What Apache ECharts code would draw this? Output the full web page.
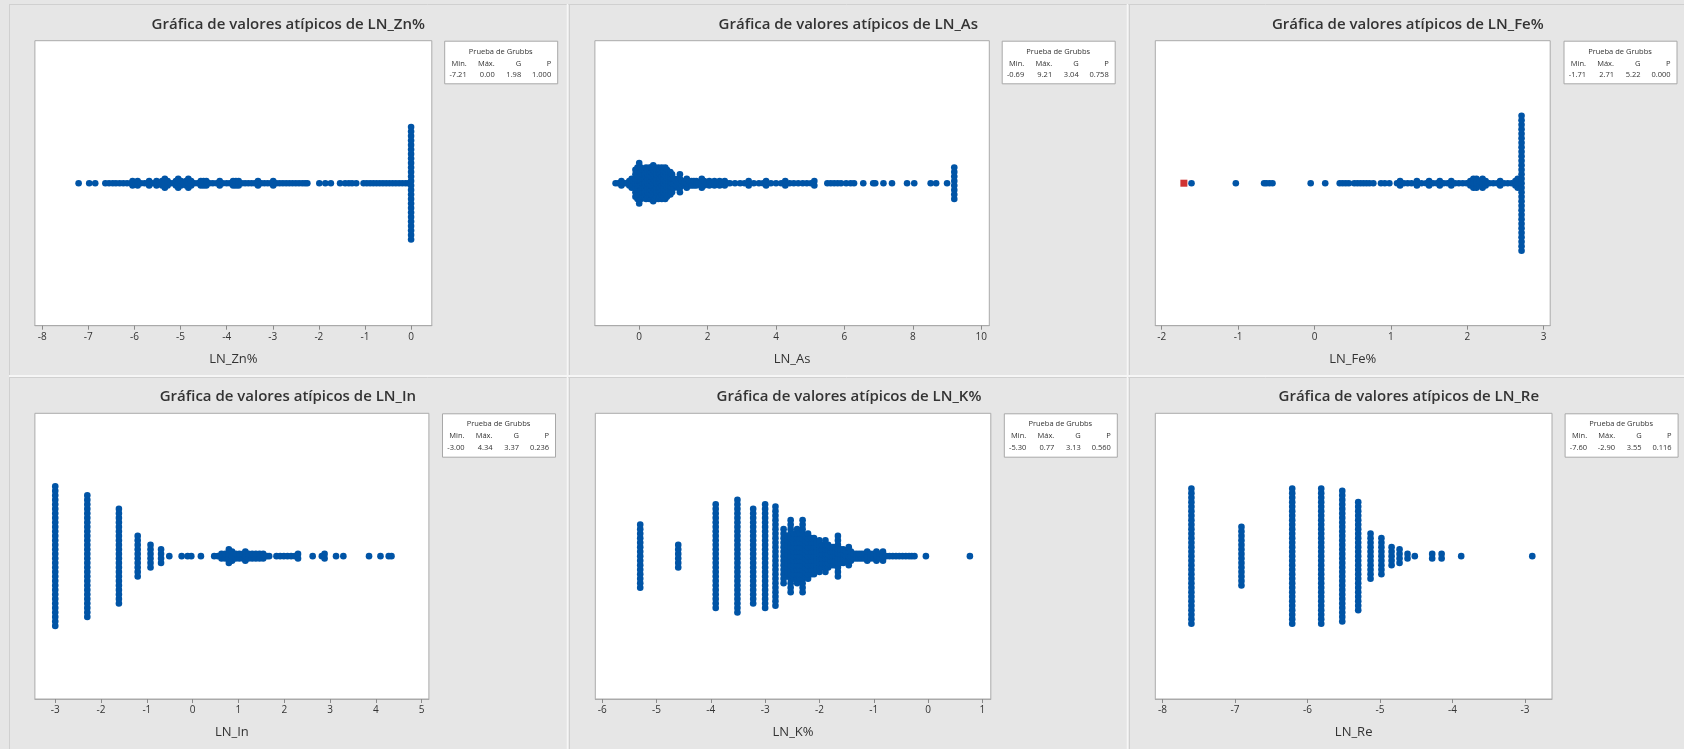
<!DOCTYPE html>
<html><head><meta charset="utf-8">
<script src="https://cdn.jsdelivr.net/npm/echarts@6/dist/echarts.min.js"></script>
<style>html,body{margin:0;padding:0;background:#ececec}#c{width:1684px;height:749px}</style>
</head><body><div id="c"></div>
<script>
// ---------- DATA ----------
const titles = ['Gráfica de valores atípicos de LN_Zn%','Gráfica de valores atípicos de LN_As','Gráfica de valores atípicos de LN_Fe%',
  'Gráfica de valores atípicos de LN_In','Gráfica de valores atípicos de LN_K%','Gráfica de valores atípicos de LN_Re'];
const axisNames = ['LN_Zn%','LN_As','LN_Fe%','LN_In','LN_K%','LN_Re'];
const ticksZn = [-8,-7,-6,-5,-4,-3,-2,-1,0];
const ticksAs = [0,2,4,6,8,10];
const ticksFe = [-2,-1,0,1,2,3];
const ticksIn = [-3,-2,-1,0,1,2,3,4,5];
const ticksK  = [-6,-5,-4,-3,-2,-1,0,1];
const ticksRe = [-8,-7,-6,-5,-4,-3];
// [value, number of stacked observations]
const dZn = [[-7.21,1],[-6.98,1],[-6.85,1],[-6.63,1],[-6.55,1],[-6.47,1],[-6.40,1],[-6.32,1],[-6.24,1],[-6.16,1],[-6.08,1],[-6.04,2],[-5.97,1],[-5.93,2],[-5.86,1],[-5.78,1],[-5.72,1],[-5.68,2],[-5.60,1],[-5.52,2],[-5.46,1],[-5.40,2],[-5.34,3],[-5.28,2],[-5.22,1],[-5.16,1],[-5.10,2],[-5.05,3],[-4.99,2],[-4.93,1],[-4.88,2],[-4.83,3],[-4.77,2],[-4.70,1],[-4.63,1],[-4.56,2],[-4.50,2],[-4.44,2],[-4.37,1],[-4.30,1],[-4.22,1],[-4.15,2],[-4.08,1],[-4.00,1],[-3.93,1],[-3.86,2],[-3.80,2],[-3.74,2],[-3.67,1],[-3.60,1],[-3.53,1],[-3.46,1],[-3.39,1],[-3.32,2],[-3.25,1],[-3.18,1],[-3.11,1],[-3.04,1],[-2.99,2],[-2.92,1],[-2.85,1],[-2.78,1],[-2.71,1],[-2.64,1],[-2.57,1],[-2.50,1],[-2.43,1],[-2.36,1],[-2.30,1],[-2.25,1],[-1.99,1],[-1.86,1],[-1.74,1],[-1.54,1],[-1.43,1],[-1.35,1],[-1.28,1],[-1.19,1],[-1.03,1],[-0.96,1],[-0.89,1],[-0.82,1],[-0.75,1],[-0.68,1],[-0.61,1],[-0.54,1],[-0.47,1],[-0.40,1],[-0.33,1],[-0.26,1],[-0.19,1],[-0.12,1],[-0.06,1],[0.00,26]];
const dAs = [[-0.69,1],[-0.61,1],[-0.52,2],[-0.44,1],[-0.37,1],[-0.29,2],[-0.22,3],[-0.16,2],[-0.11,7],[-0.05,8],[0.00,10],[0.05,8],[0.10,7],[0.15,7],[0.20,8],[0.25,7],[0.30,8],[0.35,8],[0.41,9],[0.46,8],[0.51,7],[0.56,8],[0.61,7],[0.66,8],[0.71,7],[0.76,8],[0.81,7],[0.86,6],[0.91,6],[0.96,5],[1.02,3],[1.08,2],[1.14,3],[1.19,5],[1.25,2],[1.32,2],[1.39,3],[1.46,2],[1.53,2],[1.60,2],[1.67,2],[1.74,1],[1.83,3],[1.90,2],[1.97,1],[2.05,2],[2.12,1],[2.20,2],[2.28,1],[2.35,2],[2.42,1],[2.50,2],[2.57,1],[2.65,1],[2.80,1],[2.95,1],[3.08,1],[3.20,2],[3.35,1],[3.50,1],[3.62,1],[3.71,2],[3.85,1],[4.00,1],[4.15,1],[4.27,2],[4.40,1],[4.52,1],[4.65,1],[4.78,1],[4.90,1],[5.02,1],[5.12,2],[5.50,1],[5.60,1],[5.70,1],[5.80,1],[5.90,1],[6.05,1],[6.18,1],[6.28,1],[6.55,1],[6.84,1],[6.90,1],[7.14,1],[7.39,1],[7.83,1],[8.04,1],[8.52,1],[8.68,1],[9.00,1],[9.21,8]];
const dFe = [[-1.61,1],[-1.03,1],[-0.66,1],[-0.63,1],[-0.59,1],[-0.55,1],[-0.05,1],[0.14,1],[0.33,1],[0.37,1],[0.41,1],[0.45,1],[0.52,1],[0.56,1],[0.60,1],[0.64,1],[0.68,1],[0.72,1],[0.77,1],[0.87,1],[0.92,1],[0.98,1],[1.08,1],[1.12,2],[1.17,1],[1.22,1],[1.27,1],[1.34,2],[1.40,1],[1.46,1],[1.50,2],[1.55,1],[1.60,1],[1.64,2],[1.69,1],[1.74,1],[1.79,2],[1.84,1],[1.89,1],[1.94,1],[1.99,1],[2.04,2],[2.08,3],[2.12,3],[2.16,2],[2.20,3],[2.24,2],[2.29,1],[2.34,1],[2.39,1],[2.43,2],[2.48,1],[2.53,1],[2.58,1],[2.63,2],[2.66,3],[2.71,31]];
const dFeOutlier = [[-1.71,1]];
const dIn = [[-3.00,32],[-2.30,28],[-1.61,22],[-1.20,10],[-0.92,6],[-0.69,4],[-0.51,1],[-0.24,1],[-0.11,1],[-0.03,1],[0.18,1],[0.47,1],[0.55,1],[0.63,2],[0.71,2],[0.79,4],[0.86,3],[0.94,2],[1.02,2],[1.10,2],[1.15,3],[1.22,2],[1.30,2],[1.38,2],[1.46,2],[1.54,2],[1.62,1],[1.67,1],[1.83,1],[1.91,1],[1.99,1],[2.07,1],[2.15,1],[2.23,1],[2.30,2],[2.62,1],[2.82,1],[2.88,2],[3.13,1],[3.29,1],[3.85,1],[4.10,1],[4.28,1],[4.34,1]];
const dK = [[-5.30,15],[-4.60,6],[-3.91,24],[-3.51,26],[-3.22,22],[-3.00,24],[-2.81,23],[-2.66,13],[-2.59,10],[-2.53,17],[-2.47,11],[-2.41,13],[-2.36,11],[-2.31,17],[-2.26,10],[-2.21,11],[-2.15,9],[-2.10,9],[-2.05,7],[-2.00,8],[-1.95,6],[-1.89,8],[-1.84,6],[-1.80,5],[-1.75,5],[-1.70,5],[-1.66,10],[-1.61,4],[-1.56,4],[-1.51,3],[-1.46,5],[-1.42,3],[-1.37,2],[-1.32,2],[-1.27,2],[-1.22,2],[-1.17,2],[-1.12,3],[-1.06,2],[-1.00,2],[-0.95,3],[-0.89,2],[-0.83,3],[-0.77,1],[-0.71,1],[-0.65,1],[-0.59,1],[-0.53,1],[-0.47,1],[-0.41,1],[-0.35,1],[-0.30,1],[-0.25,1],[-0.04,1],[0.77,1]];
const dRe = [[-7.60,31],[-6.91,14],[-6.21,31],[-5.81,31],[-5.52,30],[-5.30,25],[-5.13,11],[-4.98,9],[-4.84,5],[-4.73,4],[-4.62,2],[-4.52,1],[-4.28,2],[-4.15,2],[-3.88,1],[-2.90,1]];
const grubbsHead = ['Min.','Máx.','G','P'];
const grubbs = [['-7.21','0.00','1.98','1.000'],['-0.69','9.21','3.04','0.758'],['-1.71','2.71','5.22','0.000'],
  ['-3.00','4.34','3.37','0.236'],['-5.30','0.77','3.13','0.560'],['-7.60','-2.90','3.55','0.116']];

// ---------- LAYOUT / STYLE ----------
const FONT = '"Open Sans", "Noto Sans", sans-serif';
const BLUE = '#0054a6', RED = '#c40000';
const STEP = 4.5, DOT = 6.6;
const L = [
  {left:34.9, top:40.7, width:396.9, height:285, min:-8.158, max:0.449, ticks:ticksZn, data:dZn, box:[444.2,40.7], tx:288.3},
  {left:594.9, top:40.7, width:394.4, height:285, min:-1.295, max:10.234, ticks:ticksAs, data:dAs, box:[1001.7,40.7], tx:848.3},
  {left:1155.3, top:40.7, width:394.9, height:285, min:-2.084, max:3.085, ticks:ticksFe, data:dFe, box:[1563.5,40.7], tx:1407.8},
  {left:34.9, top:413.3, width:394, height:285.7, min:-3.444, max:5.157, ticks:ticksIn, data:dIn, box:[442,413.3], tx:287.9},
  {left:595.3, top:413.3, width:395.5, height:285.7, min:-6.127, max:1.155, ticks:ticksK, data:dK, box:[1003.8,413.3], tx:849},
  {left:1155.3, top:413.3, width:396.7, height:285.7, min:-8.098, max:-2.628, ticks:ticksRe, data:dRe, box:[1564.6,413.3], tx:1408.8}
];
function stack(pairs){
  const out=[];
  pairs.forEach(([x,n])=>{ for(let k=0;k<n;k++) out.push([x,(k-(n-1)/2)*STEP]); });
  return out;
}
const grid=[], xAxis=[], yAxis=[], series=[], graphic=[];
// panel separators
const sepDark='#d0d0d0', sepLight='#f6f6f6';
[[9,4,1684,4],[9,377,1684,377]].forEach(a=>graphic.push({type:'line',shape:{x1:a[0],y1:a[1]+0.5,x2:a[2],y2:a[3]+0.5},style:{stroke:sepDark,lineWidth:1},silent:true}));
[[9,4,9,749],[569,4,569,749],[1129,4,1129,749]].forEach(a=>graphic.push({type:'line',shape:{x1:a[0]+0.5,y1:a[1],x2:a[2]+0.5,y2:a[3]},style:{stroke:sepDark,lineWidth:1},silent:true}));
[[9,375.5,1684,375.5]].forEach(a=>graphic.push({type:'line',shape:{x1:a[0],y1:a[1]+0.5,x2:a[2],y2:a[3]+0.5},style:{stroke:sepLight,lineWidth:2},silent:true}));
[[567,4,567,749],[1127,4,1127,749]].forEach(a=>graphic.push({type:'line',shape:{x1:a[0]+0.5,y1:a[1],x2:a[2]+0.5,y2:a[3]},style:{stroke:sepLight,lineWidth:1.5},silent:true}));

L.forEach((p,i)=>{
  grid.push({left:p.left, top:p.top, width:p.width, height:p.height, show:true, backgroundColor:'#ffffff', borderColor:'#aaaaaa', borderWidth:1, containLabel:false});
  xAxis.push({gridIndex:i, type:'value', min:p.min, max:p.max,
    axisLine:{show:true, onZero:false, lineStyle:{color:'#aaaaaa'}},
    axisTick:{show:true, customValues:p.ticks, length:4, inside:false, lineStyle:{color:'#8a8a8a'}},
    axisLabel:{show:true, customValues:p.ticks, margin:6, fontSize:10, color:'#333', fontFamily:FONT},
    splitLine:{show:false},
    name:axisNames[i], nameLocation:'middle', nameGap:27,
    nameTextStyle:{fontSize:13, color:'#333', fontFamily:FONT}});
  yAxis.push({gridIndex:i, type:'value', min:-p.height/2, max:p.height/2, show:false});
  series.push({type:'scatter', xAxisIndex:i, yAxisIndex:i, symbol:'circle', symbolSize:DOT, silent:true,
    itemStyle:{color:BLUE, opacity:1}, data:stack(p.data)});
  const ty = p.top - 16.4;
  graphic.push({type:'text', silent:true, style:{x:p.tx, y:ty, text:titles[i], textAlign:'center', textVerticalAlign:'middle',
    font:'600 15px '+FONT, fill:'#333'}});
  // Grubbs box
  const bx=p.box[0], by=p.box[1], bw=113, bh=(i<3?42.6:43.4);
  graphic.push({type:'rect', silent:true, shape:{x:bx+0.5,y:by+0.5,width:bw,height:bh}, style:{fill:'#fff', stroke:'#a8a8a8', lineWidth:1}});
  graphic.push({type:'text', silent:true, style:{x:bx+bw/2, y:by+11, text:'Prueba de Grubbs', textAlign:'center', textVerticalAlign:'middle', font:'7.5px '+FONT, fill:'#333'}});
  const rx=[bx+22.5, bx+50.5, bx+77, bx+bw-6];
  for(let c=0;c<4;c++){
    graphic.push({type:'text', silent:true, style:{x:rx[c], y:by+22.7, text:grubbsHead[c], textAlign:'right', textVerticalAlign:'middle', font:'7.5px '+FONT, fill:'#333'}});
    graphic.push({type:'text', silent:true, style:{x:rx[c], y:by+34.3, text:grubbs[i][c], textAlign:'right', textVerticalAlign:'middle', font:'7.5px '+FONT, fill:'#333'}});
  }
});
series.push({type:'scatter', xAxisIndex:2, yAxisIndex:2, symbol:'rect', symbolSize:7, silent:true, z:5,
  itemStyle:{color:RED}, data:stack(dFeOutlier)});

const chart = echarts.init(document.getElementById('c'), null, {renderer:'canvas'});
chart.setOption({backgroundColor:'#e6e6e6', animation:false, grid, xAxis, yAxis, series, graphic});
</script></body></html>
